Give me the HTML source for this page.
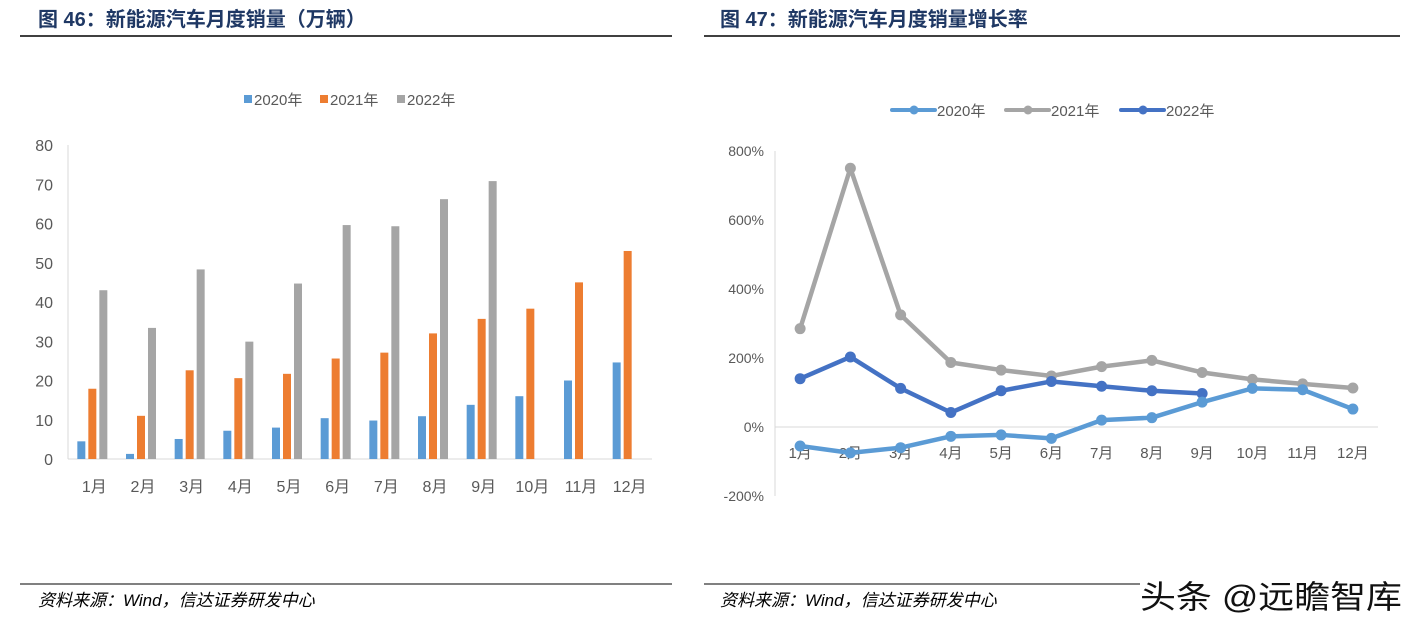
<!DOCTYPE html>
<html><head><meta charset="utf-8">
<style>
body{margin:0;width:1420px;height:631px;background:#fff;overflow:hidden;font-family:"Liberation Sans","Noto Sans CJK SC",sans-serif;}
svg{position:absolute;left:0;top:0}
</style></head>
<body>
<svg id="svg" width="1420" height="631">
<g>
<text x="38" y="26" font-size="20" font-weight="bold" fill="#1f3864" font-family="Liberation Sans,Noto Sans CJK SC,sans-serif">图 46：新能源汽车月度销量（万辆）</text>
<line x1="20" y1="36" x2="672" y2="36" stroke="#000" stroke-width="1.5"/>
</g>
<g>
<text x="720" y="26" font-size="20" font-weight="bold" fill="#1f3864" font-family="Liberation Sans,Noto Sans CJK SC,sans-serif">图 47：新能源汽车月度销量增长率</text>
<line x1="704" y1="36" x2="1400" y2="36" stroke="#000" stroke-width="1.5"/>
</g>
<g>
<line x1="20" y1="584" x2="672" y2="584" stroke="#000" stroke-width="1"/>
<line x1="704" y1="584" x2="1140" y2="584" stroke="#000" stroke-width="1"/>
<text x="38" y="606" font-size="17" font-style="italic" fill="#000">资料来源：Wind，信达证券研发中心</text>
<text x="720" y="606" font-size="17" font-style="italic" fill="#000">资料来源：Wind，信达证券研发中心</text>
<text x="1140" y="608" font-size="32" fill="#111" textLength="262" lengthAdjust="spacingAndGlyphs">头条 @远瞻智库</text>
</g>
<g id="left"></g>
<g id="right"></g>
</svg>
<script>
const months=["1月","2月","3月","4月","5月","6月","7月","8月","9月","10月","11月","12月"];
const sales2020=[4.5,1.3,5.1,7.2,8.0,10.4,9.8,10.9,13.8,16.0,20.0,24.6];
const sales2021=[17.9,11.0,22.6,20.6,21.7,25.6,27.1,32.0,35.7,38.3,45.0,53.0];
const sales2022=[43.0,33.4,48.3,29.9,44.7,59.6,59.3,66.2,70.8];
const barTicks=[0,10,20,30,40,50,60,70,80];
const growth2020=[-55,-75,-60,-27,-23,-33,20,27,72,112,108,52];
const growth2021=[285,750,325,187,165,148,175,193,158,138,125,113];
const growth2022=[140,203,112,42,105,132,118,105,97];
const lineTicks=[-200,0,200,400,600,800];
const NS="http://www.w3.org/2000/svg";
function mk(parent,tag,attrs,text){const e=document.createElementNS(NS,tag);for(const k in attrs)e.setAttribute(k,attrs[k]);if(text!==undefined)e.textContent=text;parent.appendChild(e);return e;}

const L=document.getElementById('left');
const lx0=68,lx1=652,ly0=459,ly1=145;
const ly=v=>ly0-(v-0)/80*(ly0-ly1);
const bw=(lx1-lx0)/12;
const lax=mk(L,'line',{x1:lx0,y1:ly1,x2:lx0,y2:ly0,stroke:'#d9d9d9'});


const lbx=mk(L,'line',{x1:lx0,y1:ly0,x2:lx1,y2:ly0,stroke:'#d9d9d9'});


barTicks.forEach(t=>{const e=mk(L,'text',{x:53,y:ly(t)+6,'font-size':16,fill:'#595959','text-anchor':'end'},String(t));

});
months.forEach((m,i)=>{const e=mk(L,'text',{x:lx0+bw*(i+0.5)+2,y:492,'font-size':16,fill:'#595959','text-anchor':'middle'},m);

});
const series=[[sales2020,'#5b9bd5',-11],[sales2021,'#ed7d31',0],[sales2022,'#a5a5a5',11]];
series.forEach(([arr,c,off],si)=>arr.forEach((v,i)=>{const cx=lx0+bw*(i+0.5)+off;
const r=mk(L,'rect',{x:cx-4,y:ly(v),width:8,height:ly0-ly(v),fill:c});

}));
[['2020年','#5b9bd5',244],['2021年','#ed7d31',320],['2022年','#a5a5a5',397]].forEach(([t,c,x])=>{
const g=mk(L,'g',{});


mk(g,'rect',{x:x,y:95,width:8,height:8,fill:c});
mk(g,'text',{x:x+10,y:105,'font-size':15,fill:'#595959'},t);});

const R=document.getElementById('right');
const rx0=775,rx1=1378,ry0=427,ry800=151;
const ry=v=>ry0-v/800*(ry0-ry800);
const step=(rx1-rx0)/12;
const rxp=i=>rx0+step*(i+0.5);
const ryax=mk(R,'line',{x1:rx0,y1:ry(800),x2:rx0,y2:ry(-200),stroke:'#d9d9d9'});


const rxax=mk(R,'line',{x1:rx0,y1:ry0,x2:rx1,y2:ry0,stroke:'#d9d9d9'});


lineTicks.forEach(t=>{const e=mk(R,'text',{x:764,y:ry(t)+5,'font-size':14,fill:'#595959','text-anchor':'end'},t+'%');

});
months.forEach((m,i)=>{const e=mk(R,'text',{x:rxp(i),y:458,'font-size':15,fill:'#595959','text-anchor':'middle'},m);

});
[[growth2021,'#a5a5a5','2021'],[growth2022,'#4472c4','2022'],[growth2020,'#5b9bd5','2020']].forEach(([arr,c,n])=>{
const p=mk(R,'polyline',{points:arr.map((v,i)=>rxp(i)+','+ry(v)).join(' '),fill:'none',stroke:c,'stroke-width':4.5,'stroke-linejoin':'round'});


arr.forEach((v,i)=>{const d=mk(R,'circle',{cx:rxp(i),cy:ry(v),r:5.5,fill:c});

});});
[['2020年','#5b9bd5',892],['2021年','#a5a5a5',1006],['2022年','#4472c4',1121]].forEach(([t,c,x])=>{
const g=mk(R,'g',{});


mk(g,'line',{x1:x,y1:110,x2:x+43,y2:110,stroke:c,'stroke-width':4,'stroke-linecap':'round'});
mk(g,'circle',{cx:x+22,cy:110,r:4.5,fill:c});
mk(g,'text',{x:x+45,y:116,'font-size':15,fill:'#595959'},t);});
</script>
</body></html>
